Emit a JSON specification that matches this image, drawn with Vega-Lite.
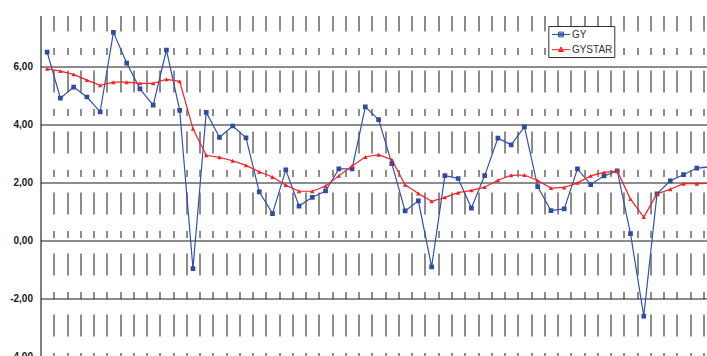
{
  "$schema": "https://vega.github.io/schema/vega-lite/v6.json",
  "width": 666.5,
  "height": 340.75,
  "autosize": {"type": "none"},
  "padding": {"left": 40.5, "top": 15.5, "right": 0, "bottom": 0},
  "background": "white",
  "config": {"view": {"stroke": null}, "font": "Liberation Sans"},
  "data": {"values": [
    {"t":1,"s":"GY","v":6.49},{"t":2,"s":"GY","v":4.90},{"t":3,"s":"GY","v":5.28},{"t":4,"s":"GY","v":4.94},{"t":5,"s":"GY","v":4.43},
    {"t":6,"s":"GY","v":7.17},{"t":7,"s":"GY","v":6.11},{"t":8,"s":"GY","v":5.22},{"t":9,"s":"GY","v":4.66},{"t":10,"s":"GY","v":6.56},
    {"t":11,"s":"GY","v":4.48},{"t":12,"s":"GY","v":-0.98},{"t":13,"s":"GY","v":4.41},{"t":14,"s":"GY","v":3.55},{"t":15,"s":"GY","v":3.94},
    {"t":16,"s":"GY","v":3.53},{"t":17,"s":"GY","v":1.67},{"t":18,"s":"GY","v":0.92},{"t":19,"s":"GY","v":2.43},{"t":20,"s":"GY","v":1.18},
    {"t":21,"s":"GY","v":1.48},{"t":22,"s":"GY","v":1.70},{"t":23,"s":"GY","v":2.46},{"t":24,"s":"GY","v":2.46},{"t":25,"s":"GY","v":4.60},
    {"t":26,"s":"GY","v":4.16},{"t":27,"s":"GY","v":2.64},{"t":28,"s":"GY","v":1.01},{"t":29,"s":"GY","v":1.36},{"t":30,"s":"GY","v":-0.92},
    {"t":31,"s":"GY","v":2.23},{"t":32,"s":"GY","v":2.13},{"t":33,"s":"GY","v":1.11},{"t":34,"s":"GY","v":2.23},{"t":35,"s":"GY","v":3.52},
    {"t":36,"s":"GY","v":3.29},{"t":37,"s":"GY","v":3.91},{"t":38,"s":"GY","v":1.85},{"t":39,"s":"GY","v":1.02},{"t":40,"s":"GY","v":1.08},
    {"t":41,"s":"GY","v":2.46},{"t":42,"s":"GY","v":1.92},{"t":43,"s":"GY","v":2.22},{"t":44,"s":"GY","v":2.39},{"t":45,"s":"GY","v":0.23},
    {"t":46,"s":"GY","v":-2.62},{"t":47,"s":"GY","v":1.60},{"t":48,"s":"GY","v":2.05},{"t":49,"s":"GY","v":2.26},{"t":50,"s":"GY","v":2.49},
    {"t":51,"s":"GY","v":2.52},
    {"t":1,"s":"GYSTAR","v":5.91},{"t":2,"s":"GYSTAR","v":5.83},{"t":3,"s":"GYSTAR","v":5.72},{"t":4,"s":"GYSTAR","v":5.52},{"t":5,"s":"GYSTAR","v":5.34},
    {"t":6,"s":"GYSTAR","v":5.45},{"t":7,"s":"GYSTAR","v":5.45},{"t":8,"s":"GYSTAR","v":5.41},{"t":9,"s":"GYSTAR","v":5.41},{"t":10,"s":"GYSTAR","v":5.55},
    {"t":11,"s":"GYSTAR","v":5.48},{"t":12,"s":"GYSTAR","v":3.84},{"t":13,"s":"GYSTAR","v":2.93},{"t":14,"s":"GYSTAR","v":2.86},{"t":15,"s":"GYSTAR","v":2.74},
    {"t":16,"s":"GYSTAR","v":2.58},{"t":17,"s":"GYSTAR","v":2.36},{"t":18,"s":"GYSTAR","v":2.18},{"t":19,"s":"GYSTAR","v":1.90},{"t":20,"s":"GYSTAR","v":1.69},
    {"t":21,"s":"GYSTAR","v":1.69},{"t":22,"s":"GYSTAR","v":1.87},{"t":23,"s":"GYSTAR","v":2.22},{"t":24,"s":"GYSTAR","v":2.56},{"t":25,"s":"GYSTAR","v":2.87},
    {"t":26,"s":"GYSTAR","v":2.95},{"t":27,"s":"GYSTAR","v":2.78},{"t":28,"s":"GYSTAR","v":1.91},{"t":29,"s":"GYSTAR","v":1.61},{"t":30,"s":"GYSTAR","v":1.34},
    {"t":31,"s":"GYSTAR","v":1.48},{"t":32,"s":"GYSTAR","v":1.64},{"t":33,"s":"GYSTAR","v":1.72},{"t":34,"s":"GYSTAR","v":1.83},{"t":35,"s":"GYSTAR","v":2.07},
    {"t":36,"s":"GYSTAR","v":2.24},{"t":37,"s":"GYSTAR","v":2.25},{"t":38,"s":"GYSTAR","v":2.06},{"t":39,"s":"GYSTAR","v":1.80},{"t":40,"s":"GYSTAR","v":1.82},
    {"t":41,"s":"GYSTAR","v":1.98},{"t":42,"s":"GYSTAR","v":2.22},{"t":43,"s":"GYSTAR","v":2.34},{"t":44,"s":"GYSTAR","v":2.39},{"t":45,"s":"GYSTAR","v":1.42},
    {"t":46,"s":"GYSTAR","v":0.80},{"t":47,"s":"GYSTAR","v":1.60},{"t":48,"s":"GYSTAR","v":1.76},{"t":49,"s":"GYSTAR","v":1.95},{"t":50,"s":"GYSTAR","v":1.95},
    {"t":51,"s":"GYSTAR","v":1.96}
  ]},
  "encoding": {
    "x": {
      "field": "t", "type": "quantitative",
      "scale": {"domain": [0.5, 50.77], "nice": false, "zero": false},
      "axis": {
        "title": null, "labels": false, "ticks": false, "domain": false, "grid": true,
        "values": [1.5,2.5,3.5,4.5,5.5,6.5,7.5,8.5,9.5,10.5,11.5,12.5,13.5,14.5,15.5,16.5,17.5,18.5,19.5,20.5,21.5,22.5,23.5,24.5,25.5,26.5,27.5,28.5,29.5,30.5,31.5,32.5,33.5,34.5,35.5,36.5,37.5,38.5,39.5,40.5,41.5,42.5,43.5,44.5,45.5,46.5,47.5,48.5,49.5,50.5],
        "gridColor": "#1a1a1a", "gridWidth": 1, "gridOpacity": 1,
        "gridDash": [22, 16.5, 7, 15.5], "gridDashOffset": 6.5
      }
    },
    "y": {
      "field": "v", "type": "quantitative",
      "scale": {"domain": [-4, 7.75], "nice": false, "zero": false},
      "axis": {
        "title": null, "values": [-4, -2, 0, 2, 4, 6],
        "labelExpr": "(datum.value < 0 ? '-' : '') + replace(format(abs(datum.value), '.2f'), '.', ',')",
        "labelFont": "Liberation Sans", "labelFontSize": 10, "labelFontWeight": "bold", "labelColor": "#1a1a1a",
        "ticks": false, "tickSize": 0, "labelPadding": 8,
        "domainColor": "#000000", "domainWidth": 1,
        "gridColor": "#1a1a1a", "gridWidth": 1, "gridOpacity": 1,
        "labelFlush": false, "labelBound": false, "labelOverlap": false
      }
    }
  },
  "layer": [
    {
      "transform": [{"filter": "datum.s == 'GY'"}],
      "mark": {"type": "line", "strokeWidth": 1.2, "clip": true, "color": "#3352A8"}
    },
    {
      "transform": [{"filter": "datum.s == 'GYSTAR'"}],
      "mark": {"type": "line", "strokeWidth": 1.2, "clip": true, "color": "#F42222"}
    },
    {
      "transform": [{"filter": "datum.s == 'GY'"}],
      "mark": {"type": "point", "shape": "square", "filled": true, "size": 22, "opacity": 1, "color": "#2E4CA2", "clip": true}
    },
    {
      "transform": [{"filter": "datum.s == 'GYSTAR'"}],
      "mark": {"type": "point", "shape": "triangle-up", "filled": true, "size": 20, "opacity": 1, "color": "#F42222", "clip": true}
    },
    {
      "transform": [{"filter": "datum.t > 50.9"}],
      "mark": {"type": "point", "filled": false, "opacity": 1, "size": 144, "strokeWidth": 1, "clip": true},
      "encoding": {
        "color": {"field": "s", "type": "nominal", "scale": {"domain": ["GY", "GYSTAR"], "range": ["#3352A8", "#F42222"]},
          "legend": {"title": null, "orient": "none", "legendX": 507.8, "legendY": 10.5, "direction": "vertical", "padding": 2, "strokeColor": "#333333", "fillColor": "white", "symbolSize": 144, "symbolOffset": 4.2, "labelOffset": 4.4, "labelFontSize": 10, "labelFont": "Liberation Sans", "labelColor": "#333333", "rowPadding": 3.2, "symbolStrokeWidth": 1}},
        "shape": {"field": "s", "type": "nominal", "scale": {"domain": ["GY", "GYSTAR"], "range": ["M-1.5,0H1.5M-0.4,-0.4H0.4V0.4H-0.4ZM-0.4,-0.2H0.4M-0.4,0.2H0.4", "M-1.5,0H1.5M0,-0.45L0.42,0.3H-0.42ZM-0.17,-0.15H0.17M-0.34,0.15H0.34"]},
          "legend": {"title": null, "orient": "none", "legendX": 507.8, "legendY": 10.5, "direction": "vertical", "padding": 2, "strokeColor": "#333333", "fillColor": "white", "symbolSize": 144, "symbolOffset": 4.2, "labelOffset": 4.4, "labelFontSize": 10, "labelFont": "Liberation Sans", "labelColor": "#333333", "rowPadding": 3.2, "symbolStrokeWidth": 1}}
      }
    }
  ]
}
